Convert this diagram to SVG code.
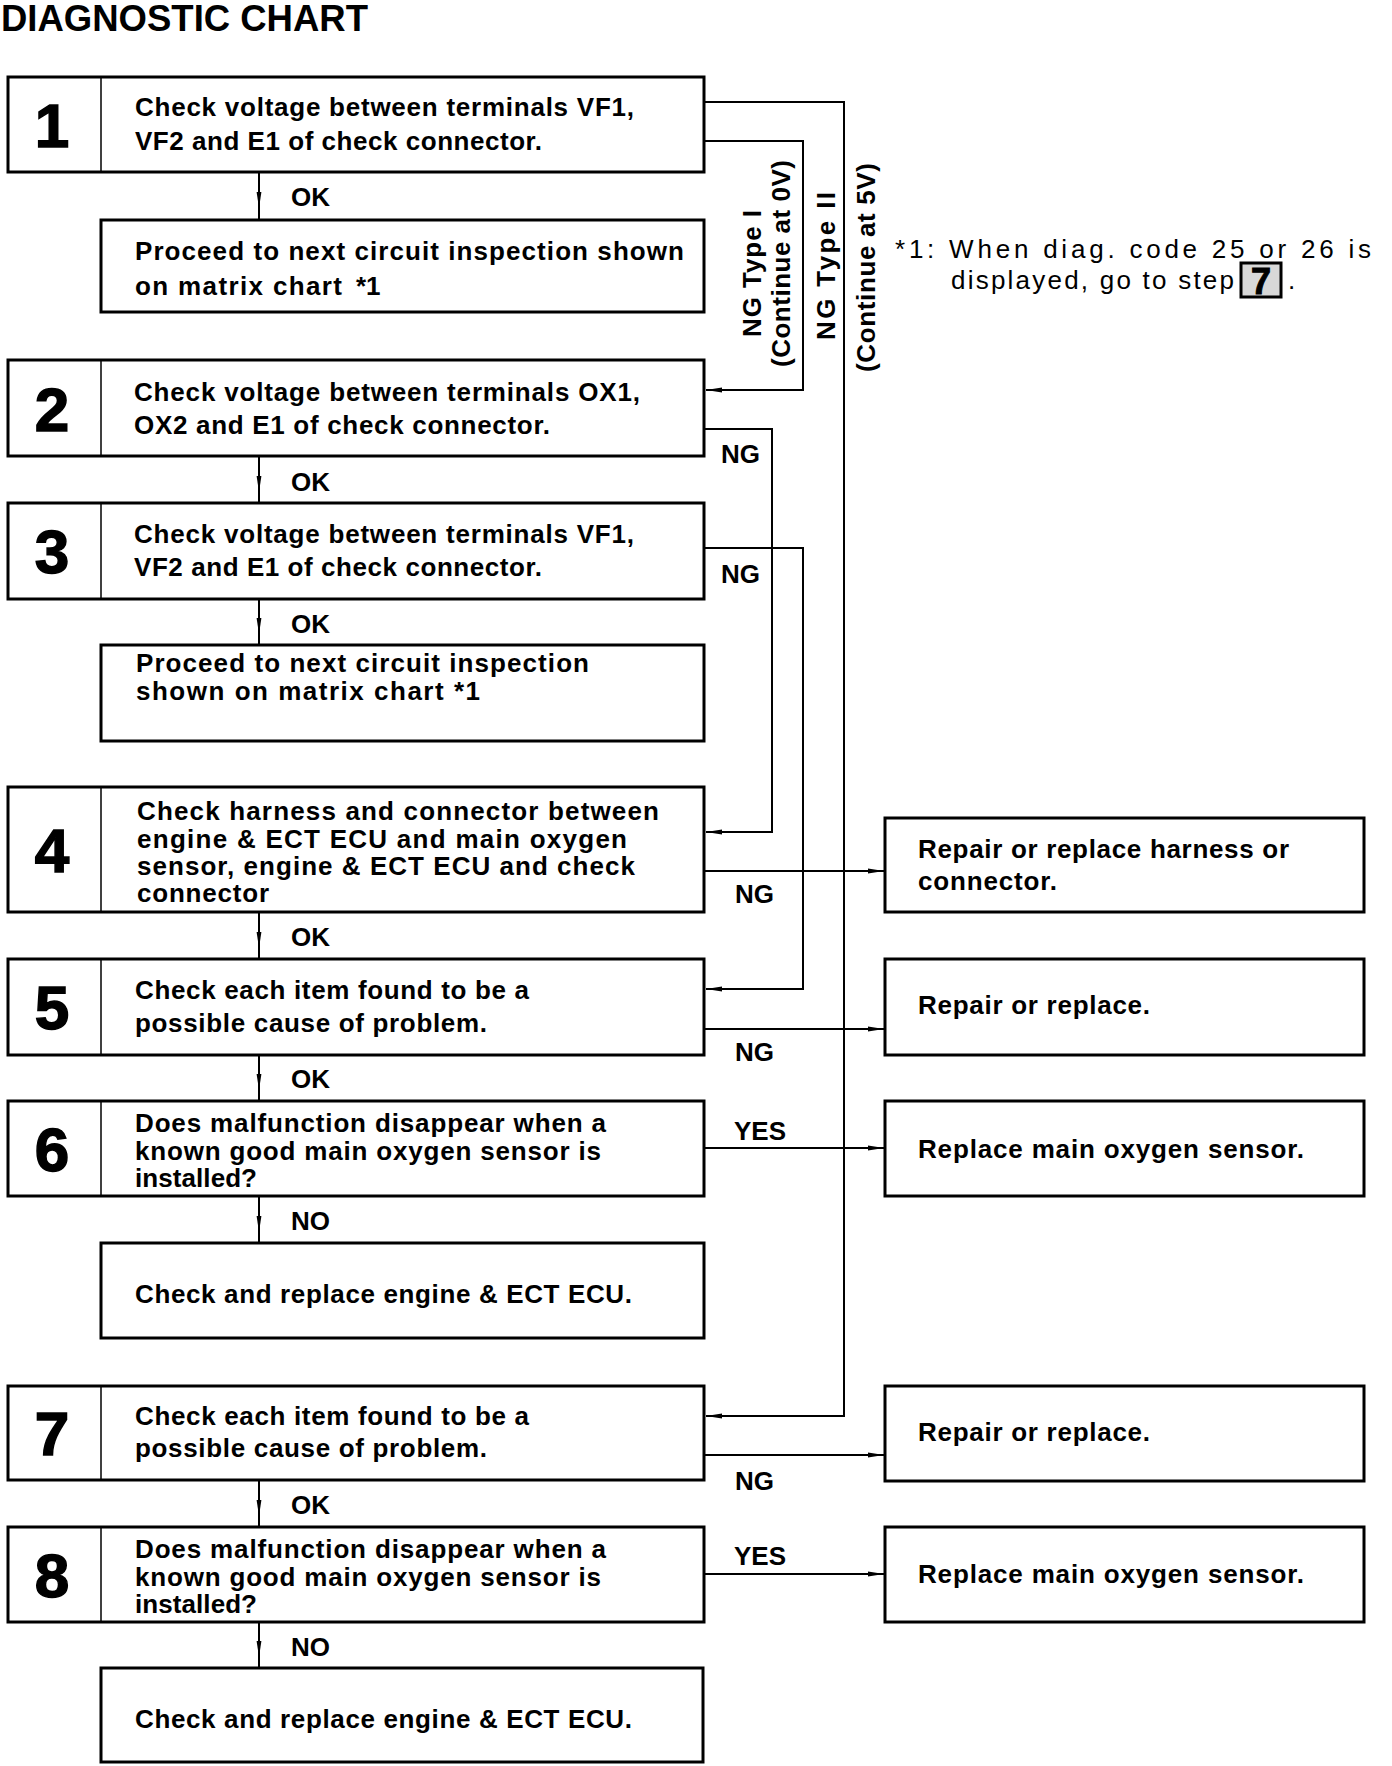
<svg xmlns="http://www.w3.org/2000/svg" width="1392" height="1766" viewBox="0 0 1392 1766">
<style>
.bg{fill:#fff}
.box{fill:#fff;stroke:#000;stroke-width:3}
.dv{stroke:#000;stroke-width:1.5}
.t{font-family:'Liberation Sans',Arial,Helvetica,sans-serif;font-size:26px;font-weight:bold;fill:#000}
.r{font-weight:normal}
.num{font-family:'Liberation Sans',Arial,Helvetica,sans-serif;font-size:62px;font-weight:bold;text-anchor:middle;fill:#000;stroke:#000;stroke-width:1.5}
.c{fill:none;stroke:#000;stroke-width:2}
</style>
<defs>
<marker id="ah" markerWidth="16" markerHeight="6" refX="16" refY="3" orient="auto" markerUnits="userSpaceOnUse">
<path d="M0,0.6 L16,3 L0,5.4 z" fill="#000"/>
</marker>
</defs>
<rect class="bg" x="0" y="0" width="1392" height="1766"/>
<text class="t" x="1" y="31" style="font-size:36px" textLength="367" lengthAdjust="spacingAndGlyphs">DIAGNOSTIC CHART</text>

<g id="connectors">
<path class="c" d="M259,172 V208" marker-end="url(#ah)"/><path class="c" d="M259,206 V220"/>
<path class="c" d="M259,456 V492" marker-end="url(#ah)"/><path class="c" d="M259,490 V503"/>
<path class="c" d="M259,599 V634" marker-end="url(#ah)"/><path class="c" d="M259,632 V645"/>
<path class="c" d="M259,912 V948" marker-end="url(#ah)"/><path class="c" d="M259,946 V959"/>
<path class="c" d="M259,1055 V1090" marker-end="url(#ah)"/><path class="c" d="M259,1088 V1101"/>
<path class="c" d="M259,1196 V1232" marker-end="url(#ah)"/><path class="c" d="M259,1230 V1243"/>
<path class="c" d="M259,1480 V1516" marker-end="url(#ah)"/><path class="c" d="M259,1514 V1527"/>
<path class="c" d="M259,1622 V1657" marker-end="url(#ah)"/><path class="c" d="M259,1655 V1668"/>
<path class="c" d="M704,102 H844 V1416 H706" marker-end="url(#ah)"/>
<path class="c" d="M704,141 H803 V390 H706" marker-end="url(#ah)"/>
<path class="c" d="M704,429 H772 V832 H706" marker-end="url(#ah)"/>
<path class="c" d="M704,548 H803 V989 H706" marker-end="url(#ah)"/>
<path class="c" d="M704,871 H884" marker-end="url(#ah)"/>
<path class="c" d="M704,1029 H884" marker-end="url(#ah)"/>
<path class="c" d="M704,1148 H884" marker-end="url(#ah)"/>
<path class="c" d="M704,1455 H884" marker-end="url(#ah)"/>
<path class="c" d="M704,1574 H884" marker-end="url(#ah)"/>
<text class="t" x="291" y="206">OK</text>
<text class="t" x="291" y="491">OK</text>
<text class="t" x="291" y="633">OK</text>
<text class="t" x="291" y="946">OK</text>
<text class="t" x="291" y="1088">OK</text>
<text class="t" x="291" y="1230">NO</text>
<text class="t" x="291" y="1514">OK</text>
<text class="t" x="291" y="1656">NO</text>
<text class="t" x="721" y="463">NG</text>
<text class="t" x="721" y="583">NG</text>
<text class="t" x="735" y="903">NG</text>
<text class="t" x="735" y="1061">NG</text>
<text class="t" x="734" y="1140">YES</text>
<text class="t" x="735" y="1490">NG</text>
<text class="t" x="734" y="1565">YES</text>
<text class="t" transform="translate(761,337) rotate(-90)" textLength="127">NG Type I</text>
<text class="t" transform="translate(790,367) rotate(-90)" textLength="207">(Continue at 0V)</text>
<text class="t" transform="translate(835,340) rotate(-90)" textLength="148">NG Type II</text>
<text class="t" transform="translate(875,372) rotate(-90)" textLength="209">(Continue at 5V)</text>
</g>

<g id="step1">
<rect class="box" x="8" y="77" width="696" height="95"/><line class="dv" x1="101" y1="77" x2="101" y2="172"/>
<text class="num" x="52" y="147">1</text>
<text class="t" x="135" y="116" textLength="499">Check voltage between terminals VF1,</text>
<text class="t" x="135" y="150" textLength="407">VF2 and E1 of check connector.</text>
</g>
<g id="step1-ok">
<rect class="box" x="101" y="220" width="603" height="92"/>
<text class="t" x="135" y="260" textLength="549">Proceed to next circuit inspection shown</text>
<text class="t" x="135" y="295" textLength="207">on matrix chart</text>
<text class="t" x="356" y="295">*1</text>
</g>
<g id="step2">
<rect class="box" x="8" y="360" width="696" height="96"/><line class="dv" x1="101" y1="360" x2="101" y2="456"/>
<text class="num" x="52" y="431">2</text>
<text class="t" x="134" y="401" textLength="506">Check voltage between terminals OX1,</text>
<text class="t" x="134" y="434" textLength="416">OX2 and E1 of check connector.</text>
</g>
<g id="step3">
<rect class="box" x="8" y="503" width="696" height="96"/><line class="dv" x1="101" y1="503" x2="101" y2="599"/>
<text class="num" x="52" y="573">3</text>
<text class="t" x="134" y="543" textLength="500">Check voltage between terminals VF1,</text>
<text class="t" x="134" y="576" textLength="408">VF2 and E1 of check connector.</text>
</g>
<g id="step3-ok">
<rect class="box" x="101" y="645" width="603" height="96"/>
<text class="t" x="136" y="672" textLength="453">Proceed to next circuit inspection</text>
<text class="t" x="136" y="700" textLength="344">shown on matrix chart *1</text>
</g>
<g id="step4">
<rect class="box" x="8" y="787" width="696" height="125"/><line class="dv" x1="101" y1="787" x2="101" y2="912"/>
<text class="num" x="52" y="872">4</text>
<text class="t" x="137" y="820" textLength="522">Check harness and connector between</text>
<text class="t" x="137" y="848" textLength="490">engine &amp; ECT ECU and main oxygen</text>
<text class="t" x="137" y="875" textLength="498">sensor, engine &amp; ECT ECU and check</text>
<text class="t" x="137" y="902" textLength="132">connector</text>
</g>
<g id="step5">
<rect class="box" x="8" y="959" width="696" height="96"/><line class="dv" x1="101" y1="959" x2="101" y2="1055"/>
<text class="num" x="52" y="1029">5</text>
<text class="t" x="135" y="999" textLength="394">Check each item found to be a</text>
<text class="t" x="135" y="1032" textLength="352">possible cause of problem.</text>
</g>
<g id="step6">
<rect class="box" x="8" y="1101" width="696" height="95"/><line class="dv" x1="101" y1="1101" x2="101" y2="1196"/>
<text class="num" x="52" y="1171">6</text>
<text class="t" x="135" y="1132" textLength="471">Does malfunction disappear when a</text>
<text class="t" x="135" y="1160" textLength="466">known good main oxygen sensor is</text>
<text class="t" x="135" y="1187" textLength="122">installed?</text>
</g>
<g id="step6-no">
<rect class="box" x="101" y="1243" width="603" height="95"/>
<text class="t" x="135" y="1303" textLength="497">Check and replace engine &amp; ECT ECU.</text>
</g>
<g id="step7">
<rect class="box" x="8" y="1386" width="696" height="94"/><line class="dv" x1="101" y1="1386" x2="101" y2="1480"/>
<text class="num" x="52" y="1455">7</text>
<text class="t" x="135" y="1425" textLength="394">Check each item found to be a</text>
<text class="t" x="135" y="1457" textLength="352">possible cause of problem.</text>
</g>
<g id="step8">
<rect class="box" x="8" y="1527" width="696" height="95"/><line class="dv" x1="101" y1="1527" x2="101" y2="1622"/>
<text class="num" x="52" y="1597">8</text>
<text class="t" x="135" y="1558" textLength="471">Does malfunction disappear when a</text>
<text class="t" x="135" y="1586" textLength="466">known good main oxygen sensor is</text>
<text class="t" x="135" y="1613" textLength="122">installed?</text>
</g>
<g id="step8-no">
<rect class="box" x="101" y="1668" width="602" height="94"/>
<text class="t" x="135" y="1728" textLength="497">Check and replace engine &amp; ECT ECU.</text>
</g>

<g id="r4">
<rect class="box" x="885" y="818" width="479" height="94"/>
<text class="t" x="918" y="858" textLength="371">Repair or replace harness or</text>
<text class="t" x="918" y="890" textLength="139">connector.</text>
</g>
<g id="r5">
<rect class="box" x="885" y="959" width="479" height="96"/>
<text class="t" x="918" y="1014" textLength="232">Repair or replace.</text>
</g>
<g id="r6">
<rect class="box" x="885" y="1101" width="479" height="95"/>
<text class="t" x="918" y="1158" textLength="386">Replace main oxygen sensor.</text>
</g>
<g id="r7">
<rect class="box" x="885" y="1386" width="479" height="95"/>
<text class="t" x="918" y="1441" textLength="232">Repair or replace.</text>
</g>
<g id="r8">
<rect class="box" x="885" y="1527" width="479" height="95"/>
<text class="t" x="918" y="1583" textLength="386">Replace main oxygen sensor.</text>
</g>

<g id="footnote">
<text class="t r" x="895" y="258" textLength="476">*1: When diag. code 25 or 26 is</text>
<text class="t r" x="951" y="289" textLength="283">displayed, go to step</text>
<rect x="1241" y="263" width="40" height="34" fill="#d8d8d8" stroke="#000" stroke-width="3"/>
<text class="num" x="1261" y="294" style="font-size:36px;stroke-width:1">7</text>
<text class="t r" x="1288" y="289">.</text>
</g>
</svg>
